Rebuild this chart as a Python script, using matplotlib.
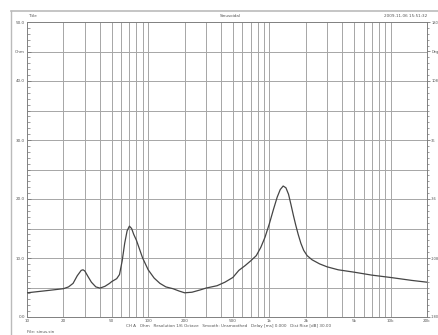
import matplotlib
matplotlib.use("Agg")
import matplotlib.pyplot as plt
from matplotlib.lines import Line2D
import numpy as np

# ---- data ----
freq_hz = [10, 15, 20, 22, 24, 26, 28, 29, 30, 32, 34, 37, 40, 44, 48, 50, 55, 58,
           61, 64, 67, 70, 73, 76, 80, 90, 100, 112, 125, 140, 160, 180, 200, 230,
           270, 300, 370, 430, 500, 560, 630, 700, 780, 850, 920, 1000, 1080, 1160,
           1230, 1300, 1370, 1440, 1510, 1580, 1650, 1730, 1820, 1920, 2050, 2250,
           2600, 3000, 3700, 5000, 7000, 10000, 15000, 20000]
impedance_ohm = [4.1, 4.5, 4.8, 5.1, 5.7, 7.0, 7.9, 8.0, 7.8, 6.8, 5.9, 5.1, 4.9, 5.2,
                 5.7, 6.0, 6.5, 7.2, 9.5, 12.5, 14.6, 15.4, 15.0, 14.0, 13.0, 10.0,
                 8.0, 6.6, 5.7, 5.1, 4.8, 4.4, 4.1, 4.2, 4.6, 4.9, 5.3, 5.9, 6.7, 7.9,
                 8.7, 9.5, 10.4, 11.8, 13.5, 15.8, 18.2, 20.3, 21.6, 22.2, 21.9, 20.8,
                 19.0, 17.2, 15.6, 14.0, 12.5, 11.3, 10.4, 9.7, 9.0, 8.5, 8.0, 7.6,
                 7.1, 6.7, 6.2, 5.9]

x_tick_values = [10, 20, 50, 100, 200, 500, 1000, 2000, 5000, 10000, 20000]
x_tick_labels = ["10", "20", "50", "100", "200", "500", "1k", "2k", "5k", "10k", "20k"]
left_tick_values = [0, 10, 20, 30, 40, 45, 50]
left_tick_labels = ["0.0", "10.0", "20.0", "30.0", "40.0", "Ohm", "50.0"]
right_tick_values = [-180, -108, -36, 36, 108, 144, 180]
right_tick_labels = ["-180", "-108", "-36", "36", "108", "Deg", "180"]

header_left = "Title"
header_center = "Sinusoidal"
header_right = "2009-11-06 15:51:32"
footer_text = ("CH A   Ohm   Resolution 1/6 Octave   Smooth: Unsmoothed   "
               "Delay [ms] 0.000   Dist Rise [dB] 30.00")
file_text = "File: sinus.sin"

# ---- figure ----
W, H = 439, 335
fig = plt.figure(figsize=(W / 100, H / 100), dpi=100)
fig.patch.set_facecolor("white")

L, R, T, B = 27, 427, 22, 317
ax = fig.add_axes([L / W, 1 - B / H, (R - L) / W, (B - T) / H])
ax.set_xscale("log")
ax.set_xlim(10, 20000)
ax.set_ylim(0, 50)

grid_c = "#a6a6a6"
for dec in [10, 100, 1000, 10000]:
    for m in range(1, 10):
        f = dec * m
        if 10 < f < 20000:
            ax.axvline(f, color=grid_c, lw=0.7, zorder=1)
for v in range(5, 50, 5):
    ax.axhline(v, color=grid_c, lw=0.7, zorder=1)

ax.plot(freq_hz, impedance_ohm, color="#454545", lw=0.9, zorder=3,
        solid_joinstyle="round")

for s in ax.spines.values():
    s.set_color("#808080")
    s.set_linewidth(0.7)

fs = 3.0
ax.set_xticks(x_tick_values)
ax.set_xticklabels(x_tick_labels, fontsize=fs, color="#555555")
ax.xaxis.set_minor_locator(matplotlib.ticker.NullLocator())
ax.tick_params(axis="x", length=0, pad=1.5)

ax.set_yticks(left_tick_values)
ax.set_yticklabels(left_tick_labels, fontsize=fs, color="#555555")
ax.set_yticks(np.arange(0, 51, 1), minor=True)
ax.tick_params(axis="y", which="major", length=3, direction="in", pad=1.5, color="#777777", width=0.6)
ax.tick_params(axis="y", which="minor", length=2, direction="in", color="#777777", width=0.5)

ax2 = ax.twinx()
ax2.set_ylim(-180, 180)
ax2.set_yticks(right_tick_values)
ax2.set_yticklabels(right_tick_labels, fontsize=2.6, color="#555555")
ax2.set_yticks(np.arange(-180, 181, 7.2), minor=True)
ax2.tick_params(axis="y", which="major", length=2.5, direction="out", pad=0.5, color="#777777", width=0.6)
ax2.tick_params(axis="y", which="minor", length=1.5, direction="out", color="#777777", width=0.5)
for s in ax2.spines.values():
    s.set_visible(False)

# outer frame
fig.add_artist(Line2D([11 / W, 1.0], [1 - 11 / H, 1 - 11 / H], color="#bbbbbb", lw=1.2))
fig.add_artist(Line2D([11 / W, 11 / W], [0, 1 - 11 / H], color="#bbbbbb", lw=1.0))

fig.text(28 / W, 1 - 16 / H, header_left, fontsize=fs, color="#555555", va="center", ha="left")
fig.text(230 / W, 1 - 16 / H, header_center, fontsize=fs, color="#555555", va="center", ha="center")
fig.text(427 / W, 1 - 16 / H, header_right, fontsize=fs, color="#555555", va="center", ha="right")
fig.text(229 / W, 1 - 326 / H, footer_text, fontsize=fs, color="#555555", va="center", ha="center")
fig.text(27 / W, 1 - 332 / H, file_text, fontsize=fs, color="#555555", va="center", ha="left")

fig.savefig("out.png", dpi=100)
